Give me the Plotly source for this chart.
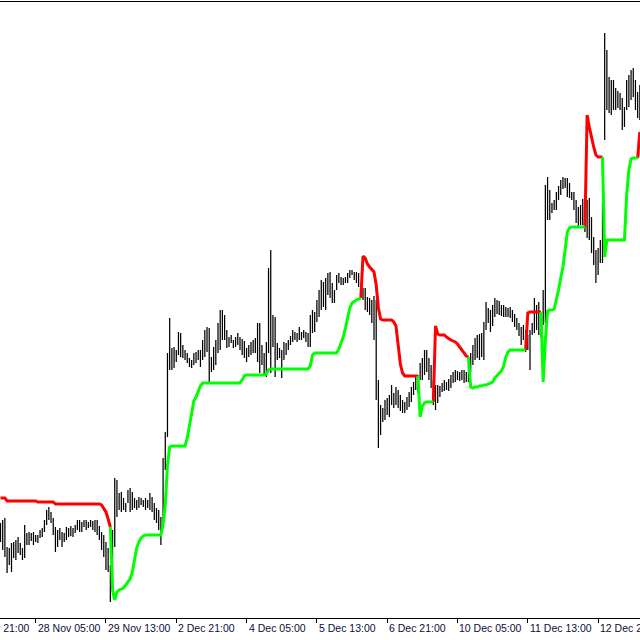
import plotly.graph_objects as go

# ---------------- data (H1 bars, price in chart points) ----------------
bar_high = [
    95, 98, 100, 71, 70, 75, 76, 78, 81, 75,
    70, 93, 85, 86, 85, 86, 83, 83, 88, 90,
    98, 108, 111, 106, 100, 91, 88, 90, 86, 85,
    91, 90, 92, 90, 93, 98, 98, 96, 98, 98,
    96, 98, 97, 98, 98, 92, 86, 83, 76, 70,
    53, 88, 140, 138, 125, 126, 120, 115, 128, 130,
    126, 120, 118, 121, 120, 118, 120, 118, 125, 121,
    115, 110, 108, 101, 160, 186, 265, 300, 270, 271,
    268, 286, 285, 273, 268, 265, 260, 258, 265, 266,
    268, 268, 278, 288, 291, 290, 261, 271, 278, 295,
    308, 308, 303, 288, 281, 283, 278, 281, 285, 281,
    279, 277, 270, 273, 276, 278, 280, 295, 295, 273,
    265, 276, 350, 368, 303, 301, 275, 270, 268, 276,
    275, 278, 282, 288, 286, 285, 291, 286, 288, 286,
    285, 303, 308, 306, 318, 328, 338, 336, 340, 345,
    346, 335, 328, 343, 345, 341, 340, 341, 345, 348,
    348, 346, 346, 345, 333, 330, 330, 321, 320, 318,
    322, 318, 238, 213, 210, 218, 220, 223, 233, 225,
    231, 228, 223, 218, 216, 221, 226, 231, 236, 242,
    243, 255, 260, 268, 268, 260, 253, 238, 233, 233,
    232, 235, 238, 236, 239, 243, 246, 248, 247, 246,
    248, 248, 246, 258, 265, 273, 280, 283, 284, 285,
    296, 316, 310, 308, 313, 320, 318, 317, 313, 313,
    311, 310, 311, 308, 304, 300, 295, 291, 293, 288,
    283, 288, 295, 320, 313, 316, 306, 328, 433, 441,
    428, 415, 418, 426, 432, 438, 441, 440, 440, 435,
    426, 426, 418, 411, 413, 419, 408, 418, 420, 401,
    381, 368, 370, 378, 416, 585, 568, 541, 538, 538,
    530, 527, 525, 520, 511, 538, 543, 548, 550, 538,
    526, 533,
]

bar_low = [
    76, 68, 61, 45, 53, 46, 60, 58, 65, 63,
    58, 60, 73, 73, 77, 73, 76, 75, 80, 81,
    86, 93, 98, 95, 83, 66, 71, 78, 71, 76,
    78, 81, 82, 81, 85, 88, 86, 86, 91, 88,
    90, 91, 88, 86, 83, 78, 68, 61, 48, 46,
    16, 33, 71, 101, 108, 106, 108, 106, 115, 106,
    108, 110, 108, 110, 113, 111, 108, 110, 108, 106,
    98, 95, 88, 73, 95, 148, 181, 248, 248, 250,
    256, 263, 261, 260, 258, 255, 251, 250, 253, 255,
    258, 251, 258, 261, 266, 236, 246, 248, 253, 265,
    268, 278, 278, 270, 271, 275, 270, 271, 273, 268,
    263, 260, 256, 261, 263, 265, 265, 256, 245, 253,
    243, 241, 265, 245, 271, 241, 258, 260, 240, 258,
    263, 268, 273, 276, 278, 276, 278, 278, 280, 276,
    271, 271, 285, 286, 296, 301, 308, 311, 308, 323,
    320, 315, 315, 328, 335, 333, 333, 335, 335, 340,
    343, 338, 335, 331, 320, 318, 308, 306, 303, 295,
    278, 218, 170, 183, 196, 198, 203, 201, 213, 210,
    213, 210, 207, 205, 205, 208, 211, 216, 223, 228,
    225, 238, 238, 243, 246, 238, 230, 213, 208, 215,
    221, 226, 227, 228, 227, 230, 235, 236, 238, 237,
    238, 235, 236, 236, 246, 253, 258, 260, 258, 261,
    258, 288, 295, 286, 292, 301, 304, 303, 302, 301,
    301, 301, 300, 296, 291, 288, 282, 273, 278, 266,
    268, 248, 283, 285, 288, 283, 281, 293, 295, 398,
    398, 405, 408, 408, 418, 423, 429, 430, 421, 420,
    418, 408, 395, 391, 393, 393, 386, 380, 378, 365,
    353, 335, 343, 355, 355, 478, 508, 505, 503, 508,
    508, 510, 508, 488, 491, 508, 511, 518, 521, 508,
    500, 498,
]

# trailing-stop indicator value per bar
stop_line = [
    120, 120, 120, 117, 117, 117, 117, 117, 117, 117,
    117, 117, 117, 117, 117, 117, 117, 116, 116, 116,
    116, 116, 116, 116, 116, 114, 114, 114, 114, 114,
    114, 114, 114, 114, 114, 114, 114, 114, 114, 114,
    114, 114, 114, 114, 114, 114, 113, 110, 106, 99,
    91, 28, 18, 26, 28, 29, 30, 33, 36, 39,
    46, 58, 70, 76, 80, 82, 83, 83, 83, 83,
    83, 83, 83, 83, 93, 113, 153, 171, 172, 172,
    172, 172, 172, 172, 172, 180, 193, 208, 217, 221,
    226, 232, 235, 235, 235, 235, 235, 235, 235, 235,
    235, 235, 235, 235, 235, 235, 235, 235, 235, 235,
    238, 242, 243, 243, 243, 243, 243, 243, 243, 243,
    243, 244, 248, 249, 249, 249, 249, 249, 249, 249,
    249, 249, 249, 249, 249, 249, 249, 249, 249, 249,
    249, 252, 263, 265, 265, 265, 265, 265, 265, 265,
    265, 265, 265, 265, 269, 275, 281, 290, 301, 310,
    315, 317, 318, 319, 320, 362, 360, 354, 351, 349,
    346, 333, 310, 299, 298, 298, 298, 298, 298, 296,
    292, 273, 254, 245, 242, 242, 242, 242, 242, 242,
    242, 201, 212, 215, 216, 216, 216, 216, 292, 284,
    283, 283, 283, 281, 279, 278, 277, 276, 274, 271,
    267, 264, 262, 261, 231, 230, 231, 231, 232, 232,
    233, 233, 234, 235, 236, 240, 242, 244, 247, 252,
    261, 266, 268, 268, 268, 268, 268, 268, 268, 268,
    305, 306, 306, 306, 306, 306, 306, 236, 278, 307,
    308, 308, 309, 318, 328, 340, 351, 368, 386, 390,
    391, 391, 391, 391, 391, 391, 391, 503, 491, 480,
    471, 463, 461, 461, 461, 361, 378, 378, 378, 378,
    378, 378, 378, 378, 378, 423, 448, 459, 460, 460,
    460, 486,
]

# bars where the trend flips (first trend is down)
flip_bars = [51, 165, 191, 198, 214, 240, 247, 267, 275, 291]

tick_bars = [-16, 16, 48, 80, 112, 144, 176, 208, 240, 272]
tick_labels = ["27 Nov 21:00", "28 Nov 05:00", "29 Nov 13:00", "2 Dec 21:00",
               "4 Dec 05:00", "5 Dec 13:00", "6 Dec 21:00", "10 Dec 05:00",
               "11 Dec 13:00", "12 Dec 21:00"]

# ---------------- figure ----------------
n = len(bar_high)
bx, by = [], []
for i in range(n):
    bx += [i, i, None]
    by += [bar_low[i], bar_high[i], None]

fig = go.Figure()
fig.add_trace(go.Scatter(x=bx, y=by, mode="lines",
                         line=dict(color="#000000", width=1.25),
                         hoverinfo="skip", showlegend=False))

bounds = [0] + flip_bars + [n]
seg = {"down": ([], []), "up": ([], [])}
direction = "down"
for k in range(len(bounds) - 1):
    s, e = bounds[k], bounds[k + 1]
    st = max(s - 1, 0)
    xs, ys = seg[direction]
    xs += list(range(st, e)) + [None]
    ys += stop_line[st:e] + [None]
    direction = "up" if direction == "down" else "down"

fig.add_trace(go.Scatter(x=seg["down"][0], y=seg["down"][1], mode="lines",
                         line=dict(color="#FF0000", width=3),
                         hoverinfo="skip", showlegend=False))
fig.add_trace(go.Scatter(x=seg["up"][0], y=seg["up"][1], mode="lines",
                         line=dict(color="#00FF00", width=3),
                         hoverinfo="skip", showlegend=False))

x0, x1 = -0.2276, 291.07
annotations = []
for tb, tl in zip(tick_bars, tick_labels):
    if x0 <= tb <= x1:
        ref, xv = "x", tb
    else:
        ref, xv = "paper", (tb - x0) / (x1 - x0)
    annotations.append(dict(x=xv, xref=ref, y=0, yref="paper", text=tl,
                            showarrow=False, xanchor="left", yanchor="top",
                            xshift=0, yshift=-2,
                            font=dict(family="Liberation Sans", size=10.5,
                                      color="#0d0d3a")))

fig.update_layout(
    width=640, height=640,
    margin=dict(l=0, r=0, t=2, b=22),
    paper_bgcolor="white", plot_bgcolor="white",
    showlegend=False,
    annotations=annotations,
    xaxis=dict(range=[x0, x1], showgrid=False, zeroline=False,
               showline=True, linecolor="black", linewidth=1, mirror=True,
               tickmode="array", tickvals=[t for t in tick_bars if t >= 0],
               ticktext=["" for t in tick_bars if t >= 0],
               ticks="outside", ticklen=4, tickcolor="black", tickwidth=1,
               fixedrange=True),
    yaxis=dict(range=[0, 616], visible=False, showgrid=False, zeroline=False,
               fixedrange=True),
)

fig.write_html("out.html", config={"displayModeBar": False},
               post_script="document.body.style.margin='0';"
                           "document.body.style.overflow='hidden';")
